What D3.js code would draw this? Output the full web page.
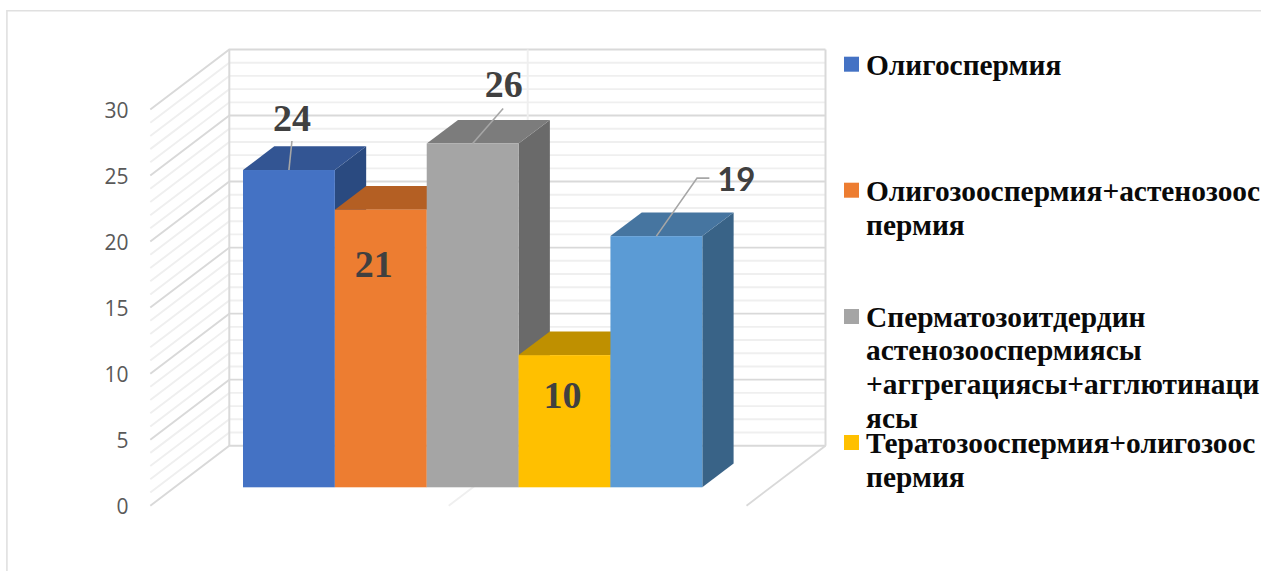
<!DOCTYPE html>
<html>
<head>
<meta charset="utf-8">
<script src="https://cdn.jsdelivr.net/npm/d3@7"></script>
<style>
    html, body { margin: 0; padding: 0; background: #fff; }
    svg { display: block; }
</style>
</head>
<body>
<div id="chartContainer"></div>
<script>
// Chart data
const categories = ["Олигоспермия", "Олигозооспермия+астенозооспермия", "Сперматозоитдердин астенозооспермиясы", "Тератозооспермия+олигозооспермия", "Прочее"];
const values = [24, 21, 26, 10, 19];
const yTicks = [0, 5, 10, 15, 20, 25, 30];
const minorTicks = d3.range(0, 31);

// Legend text, already wrapped the way the picture wraps it
const legendLines = [
    ["Олигоспермия"],
    ["Олигозооспермия+астенозоос", "пермия"],
    ["Сперматозоитдердин", "астенозооспермиясы", "+аггрегациясы+агглютинаци", "ясы"],
    ["Тератозооспермия+олигозоос", "пермия"]
];

// Colours of each bar: front, top, side
const frontColors = ["#4472c4", "#ed7d31", "#a5a5a5", "#ffc000", "#5b9bd5"];
const topColors = ["#335593", "#b45f23", "#7c7c7c", "#bf9000", "#4675a0"];
const sideColors = ["#2a4a80", "#a3551f", "#6a6a6a", "#a67d00", "#396387"];

// Declare the chart dimensions.
const width = 1261;
const height = 571;

// 3D box offsets: front of the bars to their back, and floor to back wall
const depthX = 31.3, depthY = -23.7;
const wallX = 229.3, wallRight = 825.5, wallDX = -79, wallDY = 60;

// Declare the scales.
const x = d3.scaleBand().domain(categories).range([243, 702.3]);
const y = d3.scaleLinear().domain([0, 30]).range([487.3, 90.7]);
const yWall = d3.scaleLinear().domain([0, 30]).range([445.7, 49.5]);

const svg = d3.create("svg")
    .attr("width", width)
    .attr("height", height)
    .attr("viewBox", [0, 0, width, height]);

// Outer chart frame (only top and left show up)
svg.append("path")
    .attr("d", `M6.9,571V10.8H${width}`)
    .attr("fill", "none")
    .attr("stroke", "#e0e0e0")
    .attr("stroke-width", 1.6);

// Grid lines on the back wall and the left wall
const grid = svg.append("g").attr("fill", "none");
minorTicks.forEach(function(t) {
    const major = t % 5 === 0;
    grid.append("path")
        .attr("d", `M${wallX + wallDX},${yWall(t) + wallDY}L${wallX},${yWall(t)}H${wallRight}`)
        .attr("stroke", major ? "#d9d9d9" : "#efefef")
        .attr("stroke-width", 1.9);
});

// Wall edges and the floor lines
grid.append("line")
    .attr("x1", wallX).attr("x2", wallX)
    .attr("y1", yWall(30)).attr("y2", yWall(0))
    .attr("stroke", "#d9d9d9").attr("stroke-width", 2);
grid.append("line")
    .attr("x1", wallRight).attr("x2", wallRight)
    .attr("y1", yWall(30)).attr("y2", yWall(0))
    .attr("stroke", "#d9d9d9").attr("stroke-width", 2);
grid.append("line")
    .attr("x1", 527.7).attr("x2", 527.7)
    .attr("y1", yWall(30)).attr("y2", yWall(0))
    .attr("stroke", "#efefef").attr("stroke-width", 1.9);
grid.append("line")
    .attr("x1", wallRight).attr("x2", wallRight + wallDX)
    .attr("y1", yWall(0)).attr("y2", yWall(0) + wallDY)
    .attr("stroke", "#d9d9d9").attr("stroke-width", 1.9);
grid.append("line")
    .attr("x1", 527.7).attr("x2", 527.7 + wallDX)
    .attr("y1", yWall(0)).attr("y2", yWall(0) + wallDY)
    .attr("stroke", "#efefef").attr("stroke-width", 1.9);

// Add the y-axis at the front of the left wall, labels only
const yFront = d3.scaleLinear().domain([0, 30]).range([yWall(0) + wallDY, yWall(30) + wallDY]);
svg.append("g")
    .attr("transform", "translate(134.5,1)")
    .call(d3.axisLeft(yFront).tickValues(yTicks).tickSize(0).tickPadding(6))
    .call(g => g.select(".domain").remove())
    .call(g => g.selectAll("text")
        .attr("font-family", "'Open Sans', sans-serif")
        .attr("font-size", 21)
        .attr("fill", "#595959"));

// Bars, left to right so each one covers the side of the previous one
const bars = svg.append("g");
values.forEach(function(v, i) {
    const x0 = x(categories[i]);
    const x1 = x0 + x.bandwidth();
    const top = y(v);
    const base = y(0);

    bars.append("path")
        .attr("d", `M${x1},${base}L${x1 + depthX},${base + depthY}V${top + depthY}L${x1},${top}Z`)
        .attr("fill", sideColors[i]);
    bars.append("path")
        .attr("d", `M${x0},${top}L${x0 + depthX},${top + depthY}H${x1 + depthX}L${x1},${top}Z`)
        .attr("fill", topColors[i]);
    bars.append("rect")
        .attr("x", x0)
        .attr("y", top)
        .attr("width", x.bandwidth())
        .attr("height", base - top)
        .attr("fill", frontColors[i]);
});

// Data labels, placed by hand in the original: offset from the top centre of the bar
const labelOffsets = [[3, -39], [-7, 67], [31, -47], [-2, 53], [80, -45]];
const leaderPoints = [
    [[0, 0], [3, -29]],
    null,
    [[0, 0], [30.5, -35]],
    null,
    [[0, 0], [40.7, -58], [53, -58]]
];

values.forEach(function(v, i) {
    const cx = x(categories[i]) + x.bandwidth() / 2;
    const cy = y(v);
    if (leaderPoints[i]) {
        svg.append("path")
            .attr("d", d3.line().x(p => cx + p[0]).y(p => cy + p[1])(leaderPoints[i]))
            .attr("fill", "none")
            .attr("stroke", "#a6a6a6")
            .attr("stroke-width", 1.6);
    }
    // the 19 label is set in a different, sans face in the original
    const sans = i === 4;
    svg.append("text")
        .attr("x", cx + labelOffsets[i][0])
        .attr("y", cy + labelOffsets[i][1])
        .attr("text-anchor", "middle")
        .attr("font-family", sans ? "Lato, sans-serif" : "'Liberation Serif', serif")
        .attr("font-weight", "bold")
        .attr("font-size", sans ? 33 : 38)
        .attr("fill", "#404040")
        .text(v);
});

// Legend
const legendTop = [56.7, 182.7, 309, 435];
const legendBaseline = [74.5, 201, 326.7, 453];
const legendLineHeight = 33.6;
legendLines.forEach(function(lines, i) {
    svg.append("rect")
        .attr("x", 844)
        .attr("y", legendTop[i])
        .attr("width", 15)
        .attr("height", 15)
        .attr("fill", frontColors[i]);
    lines.forEach(function(line, j) {
        svg.append("text")
            .attr("x", 866)
            .attr("y", legendBaseline[i] + j * legendLineHeight)
            .attr("font-family", "'Liberation Serif', serif")
            .attr("font-weight", "bold")
            .attr("font-size", 29.4)
            .attr("fill", "#0a0a0a")
            .text(line);
    });
});

// Append the SVG to the DOM
document.getElementById("chartContainer").appendChild(svg.node());
</script>
</body>
</html>
